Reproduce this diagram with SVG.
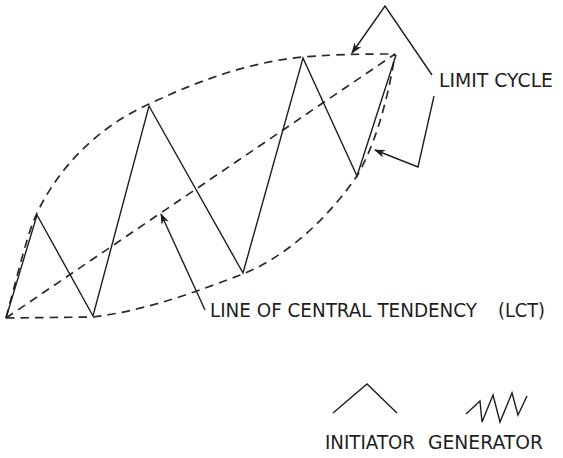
<svg xmlns="http://www.w3.org/2000/svg" width="563" height="458" viewBox="0 0 563 458">
<defs>
<style>
.solid{fill:none;stroke:#1e1e1e;stroke-width:1.4;stroke-linejoin:miter}
.dash{fill:none;stroke:#2a2a2a;stroke-width:1.7;stroke-dasharray:8.5 6}
.lbl{font-family:"DejaVu Sans","Liberation Sans",sans-serif;font-size:19.5px;fill:#1e1e1e}
</style>
<marker id="ah" markerUnits="userSpaceOnUse" markerWidth="12" markerHeight="10" refX="10" refY="4" orient="auto">
<path d="M0,0 L11,4 L0,8 L3,4 z" fill="#1e1e1e"/>
</marker>
</defs>
<rect width="563" height="458" fill="#ffffff"/>
<g id="limit-cycle">
<path class="dash" d="M6,318 C20,265 28,232 37,213 C60,165 100,126 149,104 C200,80 250,62 303,57 C340,54 370,54 395,54"/>
<path class="dash" d="M6,318 L93,317 C150,310 200,290 243,274 C290,255 330,215 357,176 C375,145 388,100 395,54"/>
</g>
<g id="lct-line">
<path class="dash" d="M6,318 L395,54"/>
</g>
<g id="zigzag">
<polyline class="solid" points="6,318 37,215 93,316 149,106 243,273 303,58 357,176 396,55"/>
</g>
<g id="connectors">
<polyline class="solid" points="432,75 385,6 352,53" marker-end="url(#ah)"/>
<polyline class="solid" points="434,96 418,167 375,150" marker-end="url(#ah)"/>
<line class="solid" x1="205" y1="310" x2="161" y2="214" marker-end="url(#ah)"/>
</g>
<g id="label-limit-cycle">
<text class="lbl" x="439" y="87" textLength="114" lengthAdjust="spacingAndGlyphs">LIMIT CYCLE</text>
</g>
<g id="label-lct">
<text class="lbl" x="210" y="317" textLength="267" lengthAdjust="spacingAndGlyphs">LINE OF CENTRAL TENDENCY</text>
<text class="lbl" x="498" y="317" textLength="47" lengthAdjust="spacingAndGlyphs">(LCT)</text>
</g>
<g id="initiator">
<polyline class="solid" points="333,413 367,384 397,413"/>
<text class="lbl" x="325" y="449" textLength="90" lengthAdjust="spacingAndGlyphs">INITIATOR</text>
</g>
<g id="generator">
<polyline class="solid" points="466,414 480,401 482,422 493,395 500,422 512,393 518,415 527,396"/>
<text class="lbl" x="428" y="449" textLength="115" lengthAdjust="spacingAndGlyphs">GENERATOR</text>
</g>
</svg>
